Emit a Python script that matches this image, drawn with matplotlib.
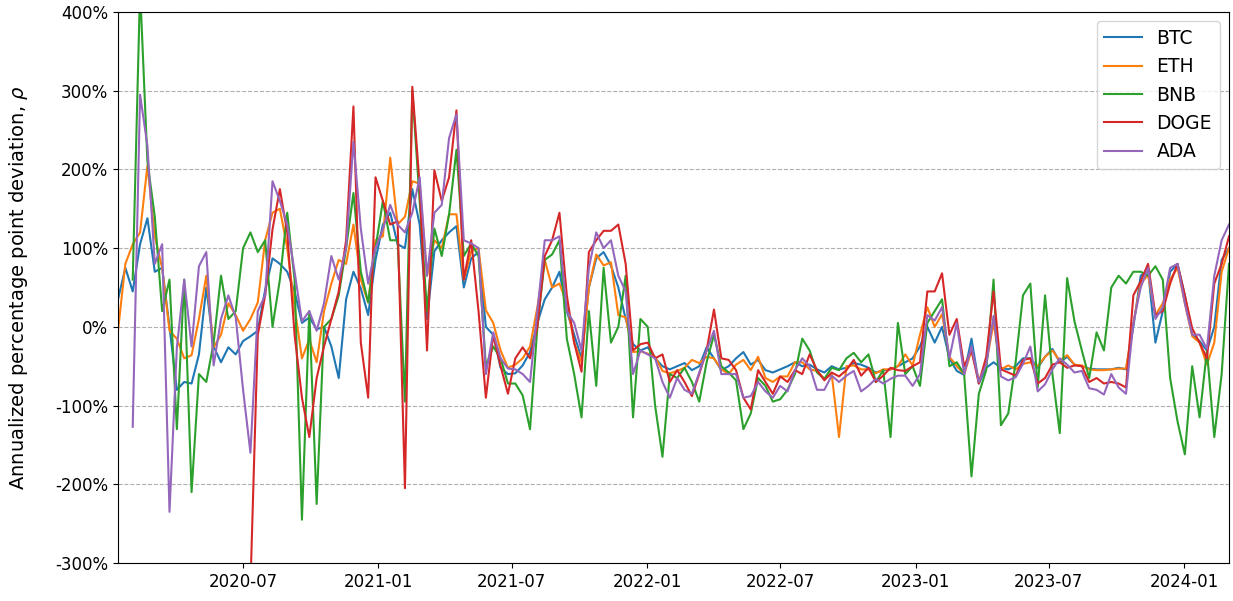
import numpy as np
import pandas as pd
import matplotlib
matplotlib.use("Agg")
import matplotlib.pyplot as plt
import matplotlib.dates as mdates
from matplotlib.ticker import FuncFormatter, MultipleLocator

nan = np.nan

# Sampled every 10 days, values in percent
dates = pd.date_range("2020-01-13", periods=152, freq="10D")

btc = [35, 75, 45, 105, 138, 70, 75, 0, -80, -70,
       -72, -35, 50, -25, -45, -26, -35, -18, -12, -5,
       47, 87, 80, 70, 45, 5, 12, -3, 0, -25,
       -65, 35, 70, 49, 15, 85, 130, 145, 105, 100,
       175, 130, 10, 96, 110, 120, 128, 50, 87, 95,
       0, -10, -52, -60, -59, -49, -32, 5, 35, 50,
       70, 20, -10, -40, 50, 87, 95, 78, 50, 10,
       -22, -30, -26, -40, -50, -54, -50, -46, -55, -50,
       -26, -40, -55, -50, -40, -32, -48, -42, -55, -58,
       -54, -50, -45, -50, -48, -54, -58, -50, -54, -52,
       -46, -48, -52, -58, -55, -54, -50, -45, -40, -25,
       0, -20, 0, -40, -56, -61, -15, -72, -52, -45,
       -52, -54, -50, -40, -40, -52, -38, -28, -45, -38,
       -48, -50, -53, -54, -54, -54, -52, -54, 0, 65,
       72, -20, 20, 70, 80, 40, -10, -18, -30, 0,
       85, 100]

eth = [-5, 80, 105, 120, 205, 115, 75, -5, -15, -40,
       -36, 10, 65, -26, -10, 30, 15, -5, 10, 31,
       110, 145, 150, 100, 25, -40, -16, -45, 20, 55,
       85, 80, 130, 60, 31, 110, 115, 215, 130, 140,
       185, 182, 65, 110, 100, 143, 143, 60, 96, 100,
       21, 5, -30, -52, -48, -40, -25, 25, 85, 50,
       55, 30, -20, -45, 50, 92, 78, 82, 15, 12,
       -32, -31, -34, -38, -56, -59, -56, -52, -42, -46,
       -38, -40, -54, -60, -48, -42, -55, -38, -65, -70,
       -63, -63, -45, -45, -54, -56, -66, -60, -140, -50,
       -49, -54, -54, -59, -54, -54, -50, -35, -49, -10,
       25, 0, 16, -38, -50, -60, -30, -68, -47, 5,
       -54, -49, -54, -47, -45, -50, -38, -30, -43, -36,
       -48, -49, -54, -55, -55, -54, -53, -53, 5, 55,
       66, 15, 30, 60, 75, 30, -12, -20, -48, -20,
       70, 100]

bnb = [nan, nan, 60, 430, 210, 140, 20, 60, -130, 60,
       -210, -60, -70, -20, 65, 10, 20, 100, 120, 95,
       110, 0, 60, 145, 60, -245, 20, -225, 0, 10,
       40, 100, 170, 70, 31, 100, 160, 110, 110, -95,
       300, 160, 20, 125, 90, 143, 225, 90, 106, 90,
       -50, -25, -40, -72, -72, -87, -130, 0, 85, 92,
       110, -15, -60, -115, 20, -75, 75, -20, 0, 65,
       -115, 10, 0, -100, -165, -60, -65, -52, -70, -95,
       -45, -10, -50, -58, -68, -130, -110, -65, -75, -95,
       -92, -80, -60, -15, -30, -58, -66, -52, -55, -40,
       -33, -45, -35, -70, -55, -140, 5, -60, -50, -75,
       5, 20, 35, -50, -45, -60, -190, -85, -55, 60,
       -125, -110, -45, 40, 55, -77, 40, -60, -135, 62,
       7, -30, -65, -7, -30, 50, 65, 55, 70, 70,
       65, 77, 60, -65, -120, -162, -50, -115, -30, -140,
       -60, 80]

doge = [nan] * 18 + [
       -330, -10,
       40, 124, 175, 120, -10, -90, -140, -65, -25, 10,
       45, 110, 280, -20, -90, 190, 160, 130, 134, -205,
       305, 180, -30, 199, 160, 190, 275, 60, 110, 20,
       -90, -10, -50, -85, -40, -26, -40, 0, 90, 110,
       145, 40, -20, -57, 95, 110, 122, 122, 130, 80,
       -30, -22, -20, -40, -35, -70, -55, -70, -88, -60,
       -30, 22, -40, -42, -55, -90, -105, -55, -70, -85,
       -63, -70, -55, -60, -35, -55, -68, -58, -63, -55,
       -42, -62, -52, -70, -62, -52, -55, -56, -50, -45,
       45, 45, 68, -10, 10, -50, -30, -72, -38, 45,
       -54, -58, -62, -42, -40, -72, -65, -48, -45, -52,
       -49, -50, -70, -65, -72, -70, -72, -77, 40, 58,
       80, 15, 20, 55, 80, 40, -2, -20, -40, 55,
       80, 115]

ada = [nan, nan, -127, 295, 230, 80, 105, -235, -26, 60,
       -25, 77, 95, -49, 10, 40, 12, -80, -160, 20,
       40, 185, 160, 130, 70, 7, 20, -5, 30, 90,
       60, 100, 235, 125, 55, 100, 124, 155, 130, 120,
       145, 190, 65, 145, 155, 240, 270, 110, 106, 100,
       -60, -7, -40, -53, -54, -60, -70, 20, 110, 110,
       115, 20, 5, -30, 75, 120, 100, 110, 65, 45,
       -60, -30, -35, -40, -70, -90, -65, -80, -85, -58,
       -30, -5, -60, -60, -60, -90, -88, -70, -82, -90,
       -75, -82, -55, -40, -50, -80, -80, -62, -70, -62,
       -56, -82, -75, -66, -72, -66, -62, -62, -75, -60,
       15, 8, 25, -40, 5, -60, -25, -70, -48, 14,
       -63, -68, -64, -47, -25, -82, -73, -54, -40, -48,
       -58, -56, -78, -80, -86, -60, -77, -85, 5, 50,
       75, 10, 25, 75, 80, 30, -10, -10, -28, 65,
       110, 130]

series = {"BTC": btc, "ETH": eth, "BNB": bnb, "DOGE": doge, "ADA": ada}
colors = ["#1f77b4", "#ff7f0e", "#2ca02c", "#d62728", "#9467bd"]

fig = plt.figure(figsize=(12.33, 6.01), dpi=100)
ax = fig.add_axes([118 / 1233, 1 - 563 / 601, (1229 - 118) / 1233, (563 - 12) / 601])

for (name, vals), c in zip(series.items(), colors):
    ax.plot(dates, vals, color=c, lw=1.5, label=name)

ax.set_xlim(dates[0], dates[-1])
ax.set_ylim(-300, 400)
ax.yaxis.set_major_locator(MultipleLocator(100))
ax.yaxis.set_major_formatter(FuncFormatter(lambda v, p: f"{v:.0f}%"))
ax.xaxis.set_major_locator(mdates.MonthLocator(bymonth=[1, 7]))
ax.xaxis.set_major_formatter(mdates.DateFormatter("%Y-%m"))
ax.tick_params(labelsize=12)
ax.grid(axis="y", linestyle="--", color="#b0b0b0", lw=0.8)
ax.set_ylabel(r"Annualized percentage point deviation, $\rho$", fontsize=14)
ax.yaxis.set_label_coords(-0.079, 0.5)
ax.legend(loc="upper right", fontsize=13.5)

fig.savefig("out.png", dpi=100)
